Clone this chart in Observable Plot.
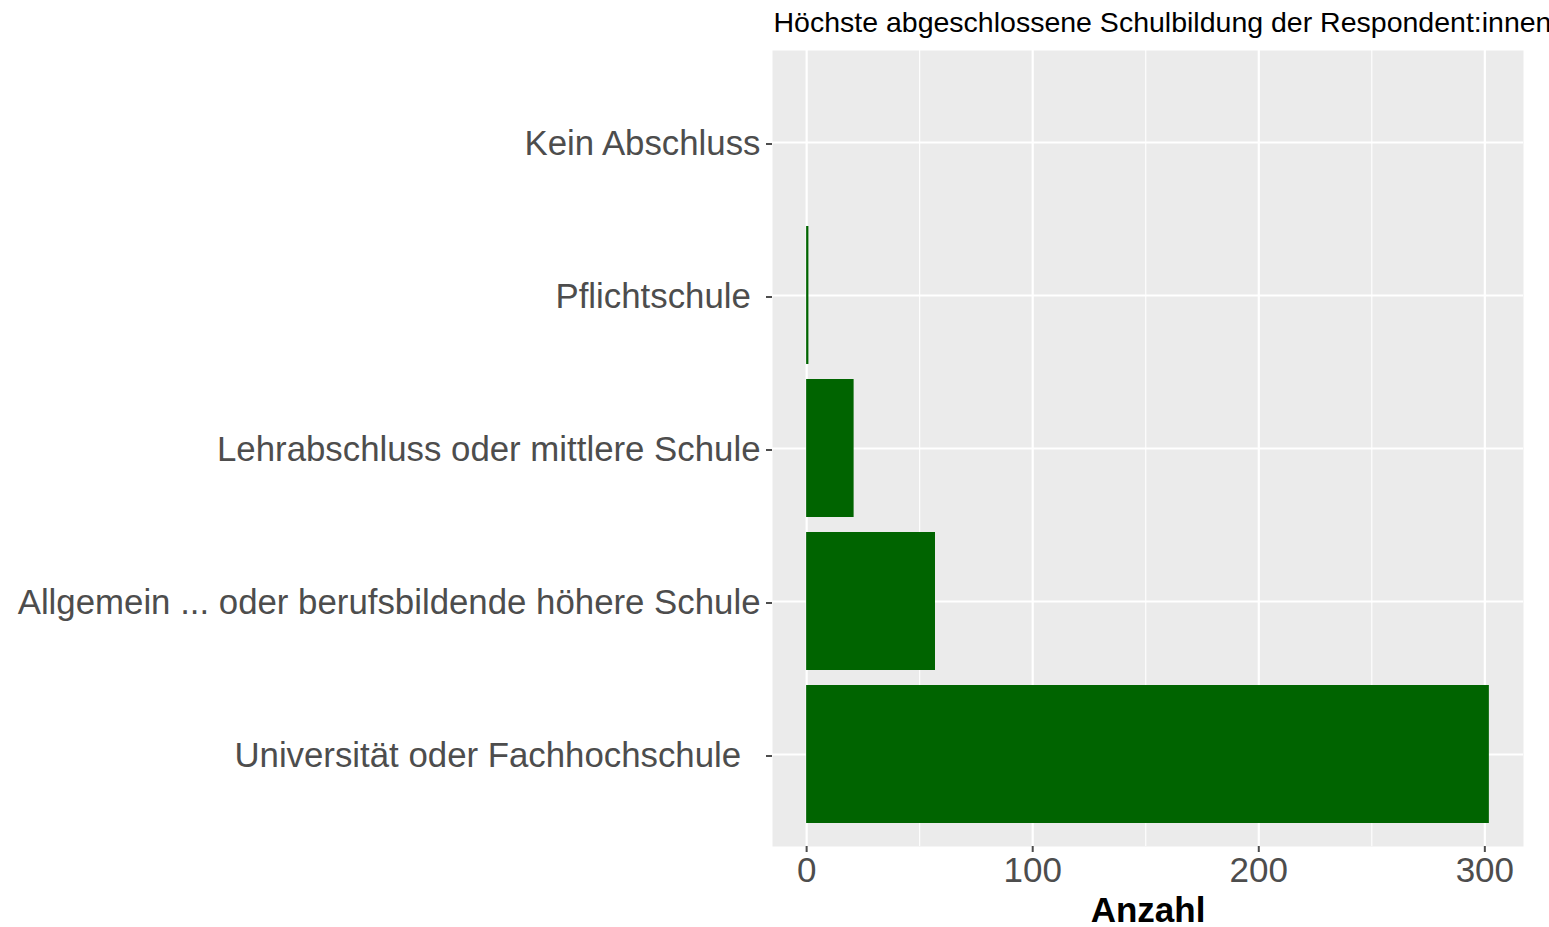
<!DOCTYPE html>
<html>
<head>
<meta charset="utf-8">
<script src="https://cdn.jsdelivr.net/npm/d3@7"></script>
<script src="https://cdn.jsdelivr.net/npm/@observablehq/plot@0.6"></script>
<style>
  html, body { margin: 0; padding: 0; background: white; overflow: hidden; }
  svg text { white-space: pre; }
</style>
</head>
<body>
<div id="chart"></div>
<script>
const title = "Höchste abgeschlossene Schulbildung der Respondent:innen";
const xLabel = "Anzahl";
const categories = [
  "Kein Abschluss",
  "Pflichtschule ",
  "Lehrabschluss oder mittlere Schule",
  "Allgemein ... oder berufsbildende höhere Schule",
  "Universität oder Fachhochschule  "
];
const counts = [0, 1, 21, 57, 302];
const xTicks = [0, 100, 200, 300];
const xMinor = [50, 150, 250];

const data = categories.map((c, i) => ({category: c, count: counts[i]}));
const xmax = d3.max(counts);
const font = "'Liberation Sans', Arial, Helvetica, sans-serif";

const chart = Plot.plot({
  width: 1549,
  height: 927,
  marginTop: 50,
  marginBottom: 81,
  marginLeft: 772,
  marginRight: 26,
  style: {fontFamily: font, background: "white", overflow: "visible"},
  x: {domain: [-0.05 * xmax, 1.05 * xmax], label: null},
  y: {domain: categories, paddingInner: 0.1, paddingOuter: 0.15, label: null},
  marks: [
    Plot.frame({fill: "#EBEBEB", stroke: "none"}),
    Plot.gridX({ticks: xMinor, stroke: "white", strokeOpacity: 1, strokeWidth: 1.1}),
    Plot.gridX({ticks: xTicks, stroke: "white", strokeOpacity: 1, strokeWidth: 2.2}),
    Plot.gridY({stroke: "white", strokeOpacity: 1, strokeWidth: 2.2}),
    Plot.barX(data, {x: "count", y: "category", fill: "#006400"}),
    Plot.axisX({ticks: xTicks, tickSize: 6, tickPadding: 5, fontSize: 35, color: "#4D4D4D", strokeWidth: 2, label: null}),
    Plot.axisY({tickSize: 6, tickPadding: 6, fontSize: 34.8, color: "#4D4D4D", strokeWidth: 2, label: null, dy: 1.5, tickFormat: d => d}),
    Plot.text([title], {text: d => d, frameAnchor: "top-left", dx: 1, dy: -19, lineAnchor: "bottom", textAnchor: "start", fontSize: 28.5, fill: "black"}),
    Plot.text([xLabel], {text: d => d, frameAnchor: "bottom", dy: 75, lineAnchor: "bottom", fontSize: 35, fontWeight: "bold", fill: "black"})
  ]
});
document.getElementById("chart").appendChild(chart);
</script>
</body>
</html>
